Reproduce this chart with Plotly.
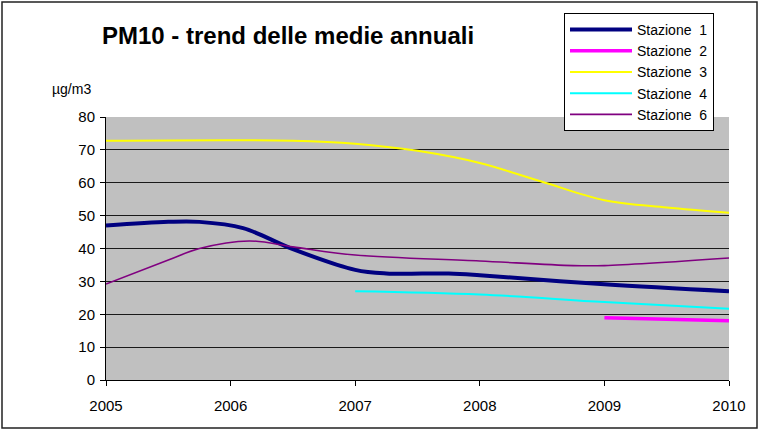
import plotly.graph_objects as go

# Data (Excel-style smoothed lines)
st1_x = [2005, 2005.5, 2005.75, 2006.1, 2006.5, 2007, 2007.25, 2007.75, 2008, 2009, 2010]
st1_y = [47, 48.1, 48.1, 46.2, 39.8, 33.5, 32.4, 32.4, 31.9, 29.1, 27.0]

st2_x = [2009, 2010]
st2_y = [18.9, 18.0]

st3_x = [2005, 2006.5, 2007, 2007.5, 2008, 2008.5, 2009, 2009.5, 2010]
st3_y = [72.8, 72.8, 71.9, 69.7, 66.0, 60.3, 54.7, 52.5, 50.9]

st4_x = [2007, 2008, 2009, 2010]
st4_y = [27.0, 26.0, 23.7, 21.7]

st6_x = [2005, 2005.5, 2005.75, 2006.15, 2006.5, 2007, 2008, 2008.75, 2009, 2010]
st6_y = [29.2, 36.5, 40.0, 42.3, 40.5, 38.0, 36.2, 34.8, 34.8, 37.1]

names = ["Stazione\u00a0\u00a01", "Stazione\u00a0\u00a02", "Stazione\u00a0\u00a03",
         "Stazione\u00a0\u00a04", "Stazione\u00a0\u00a06"]
colors = ["#000080", "#FF00FF", "#FFFF00", "#00FFFF", "#800080"]
widths = [4, 3.5, 2, 2, 1.6]
series = [(st1_x, st1_y), (st2_x, st2_y), (st3_x, st3_y), (st4_x, st4_y), (st6_x, st6_y)]

year_ticks = [2005, 2006, 2007, 2008, 2009, 2010]
y_ticks = [0, 10, 20, 30, 40, 50, 60, 70, 80]

W, H = 761, 430
L, R, T, B = 106, 32, 117, 50
pw, ph = W - L - R, H - T - B

def px(x):
    return (x - L) / pw

def py(y):
    return (H - B - y) / ph

fig = go.Figure()
for (xs, ys), n, c, w in zip(series, names, colors, widths):
    fig.add_trace(go.Scatter(x=xs, y=ys, name=n, mode="lines",
                             line=dict(color=c, width=w, shape="spline", smoothing=1.0)))

FONT = "Arial, Liberation Sans, sans-serif"

fig.update_layout(
    width=W, height=H,
    margin=dict(l=L, r=R, t=T, b=B),
    paper_bgcolor="white",
    plot_bgcolor="#C0C0C0",
    font=dict(family=FONT, size=15, color="black"),
    showlegend=True,
    legend=dict(x=px(564), y=py(13), xanchor="left", yanchor="top",
                bgcolor="white", bordercolor="black", borderwidth=1,
                font=dict(family=FONT, size=14, color="black"),
                itemwidth=62, entrywidth=126, entrywidthmode="pixels",
                tracegroupgap=0),
    xaxis=dict(range=[2005, 2010], tickvals=year_ticks, ticktext=[str(v) for v in year_ticks],
               showgrid=False, zeroline=False, showline=True, linecolor="black", linewidth=1,
               ticks="outside", ticklen=5, tickcolor="black", ticklabelstandoff=7,
               tickfont=dict(family=FONT, size=15, color="black")),
    yaxis=dict(range=[0, 80], tickvals=y_ticks, showgrid=True, gridcolor="#1a1a1a", gridwidth=1,
               zeroline=False, showline=True, linecolor="black", linewidth=1,
               ticks="outside", ticklen=5, tickcolor="black", ticklabelstandoff=2,
               tickfont=dict(family=FONT, size=15, color="black")),
    annotations=[
        dict(text="<b>PM10 - trend delle medie annuali</b>", x=px(288), y=py(36),
             xref="paper", yref="paper", showarrow=False, xanchor="center", yanchor="middle",
             font=dict(family=FONT, size=24, color="black")),
        dict(text="µg/m3", x=px(71), y=py(89), xref="paper", yref="paper",
             showarrow=False, xanchor="center", yanchor="middle",
             font=dict(family=FONT, size=14, color="black")),
    ],
    shapes=[
        dict(type="rect", xref="paper", yref="paper",
             x0=px(2), x1=px(757), y0=py(428), y1=py(2),
             line=dict(color="#222222", width=1.5), fillcolor="rgba(0,0,0,0)", layer="below"),
    ],
)

fig.write_html("out.html", config={"displayModeBar": False},
               post_script="document.body.style.margin='0';document.body.style.padding='0';")
